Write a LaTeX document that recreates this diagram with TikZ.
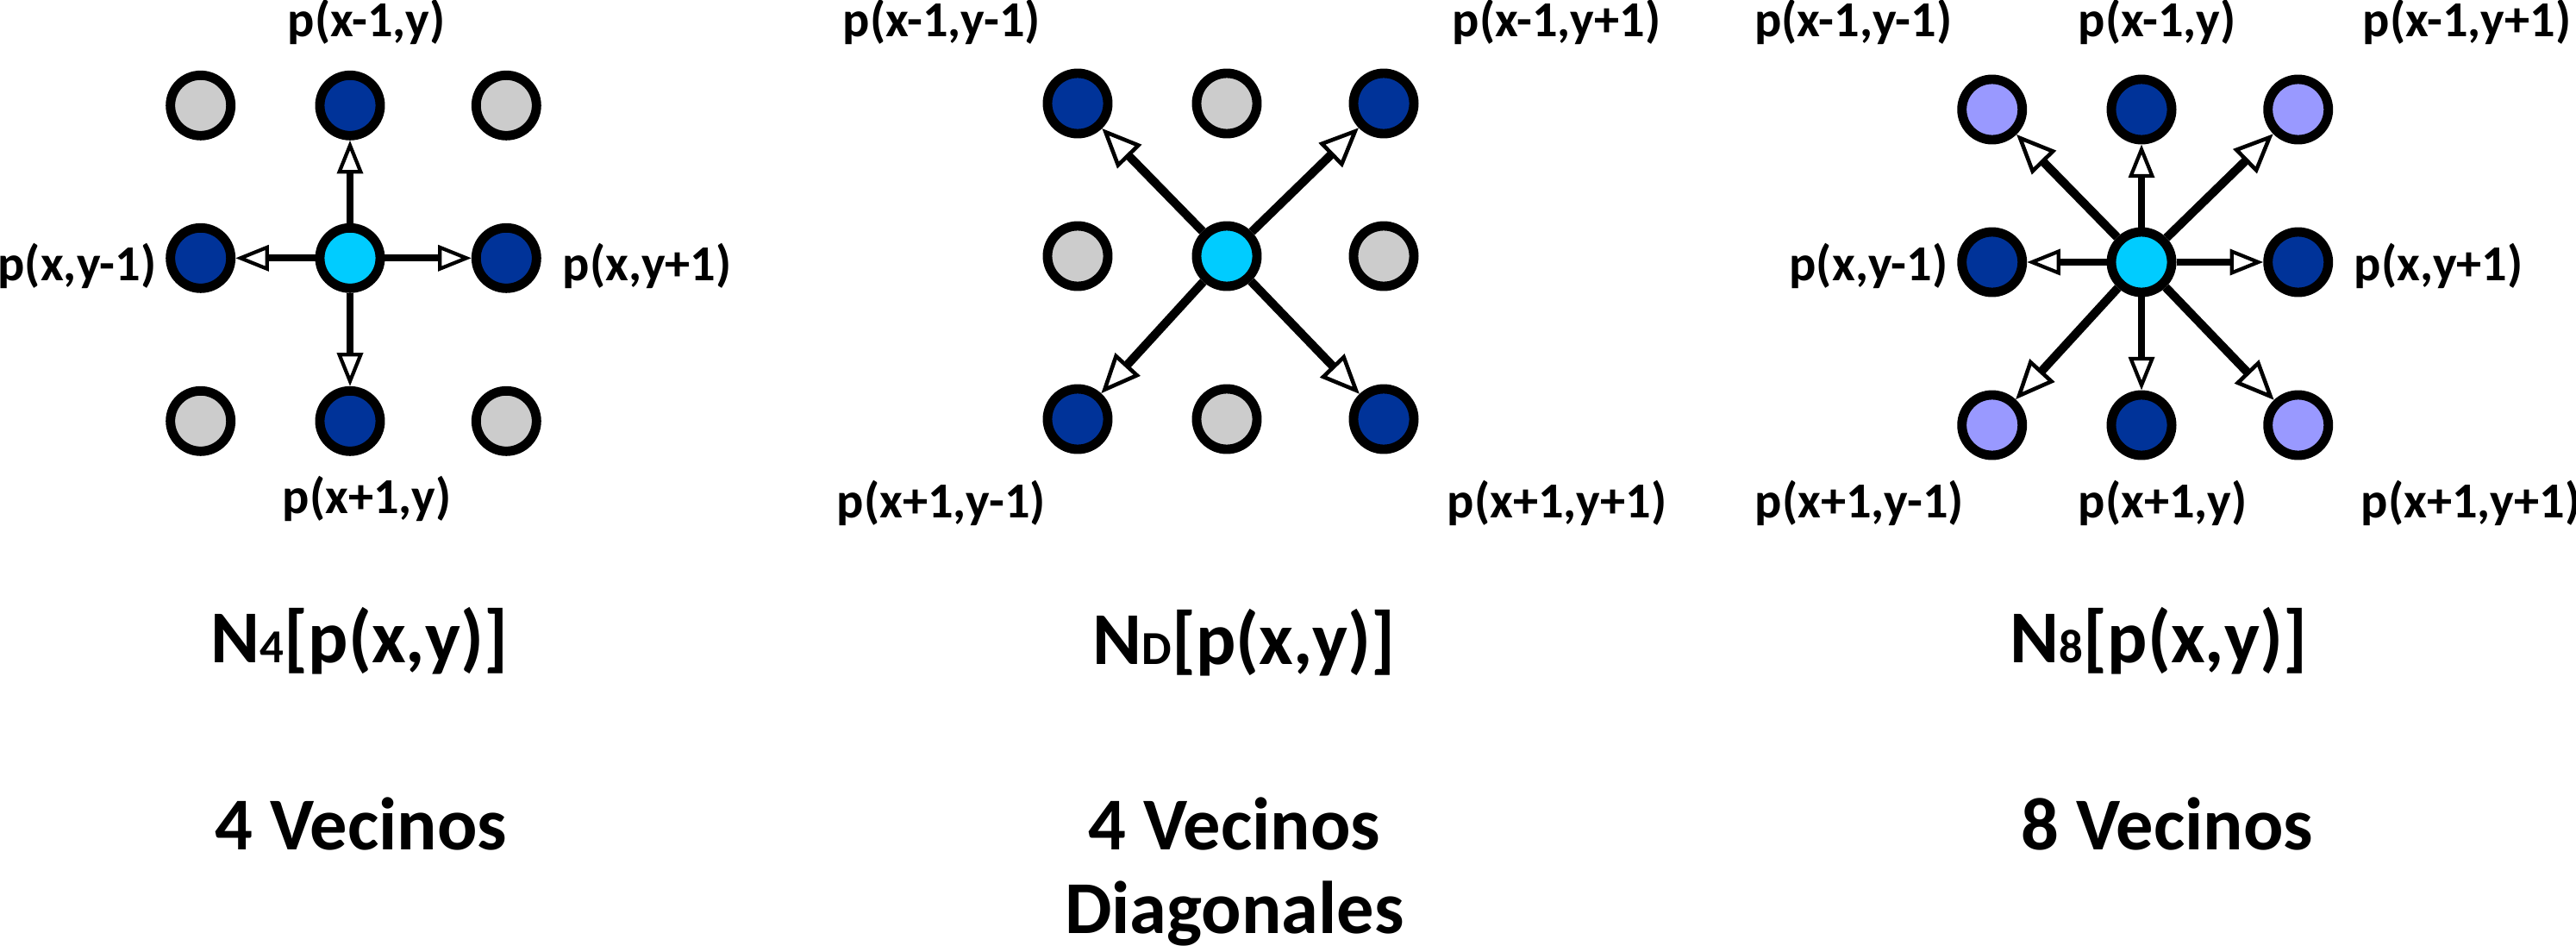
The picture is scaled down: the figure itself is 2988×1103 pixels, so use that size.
\documentclass[tikz,border=0pt]{standalone}
\usepackage{fontspec}
\setmainfont{Carlito}
\usetikzlibrary{arrows.meta}
\definecolor{dkblue}{HTML}{003399}
\definecolor{grayc}{HTML}{CCCCCC}
\definecolor{lav}{HTML}{9999FF}
\definecolor{cyanc}{HTML}{00CCFF}
\newcommand{\lblfont}{\bfseries\fontsize{16.6pt}{19pt}\selectfont}
\newcommand{\ttlfont}{\bfseries\fontsize{24.6pt}{29pt}\selectfont}
\newcommand{\subfnt}{\fontsize{15.6pt}{18pt}\selectfont}
\tikzset{
  pix/.style={circle, draw=black, line width=3.1pt, minimum size=0.70cm, inner sep=0pt},
  dk/.style={pix, fill=dkblue},
  gr/.style={pix, fill=grayc},
  lv/.style={pix, fill=lav},
  ctr/.style={pix, fill=cyanc},
  lbl/.style={font=\lblfont, inner sep=0pt},
  ttl/.style={font=\ttlfont, inner sep=0pt, anchor=base},
  arr/.style={line width=2.3pt, -{Triangle[open, length=11pt, width=8.5pt, line width=1.2pt]}},
  darr/.style={line width=2.85pt, -{Triangle[open, length=13pt, width=11pt, line width=1.3pt]}}
}
\begin{document}
\begin{tikzpicture}[x=0.01cm, y=-0.01cm]
\useasboundingbox (0,0) rectangle (2988,1103);
% ---------- Panel 1 ----------
\node[gr]  (a11) at (232.7,122.3) {};
\node[dk]  (a12) at (406,122.3) {};
\node[gr]  (a13) at (587.3,122.3) {};
\node[dk]  (a21) at (232.7,299.3) {};
\node[ctr] (a22) at (406,299.3) {};
\node[dk]  (a23) at (587.3,299.3) {};
\node[gr]  (a31) at (232.7,488.3) {};
\node[dk]  (a32) at (406,488.3) {};
\node[gr]  (a33) at (587.3,488.3) {};
\draw[arr] (a22) -- (a12);
\draw[arr] (a22) -- (a21);
\draw[arr] (a22) -- (a23);
\draw[arr] (a22) -- (a32);
\node[lbl, anchor=base west] (la1) at (333,42) {p(x-1,y)};
\node[lbl, anchor=base east] (la2) at (182,325) {p(x,y-1)};
\node[lbl, anchor=base west] (la3) at (652,325) {p(x,y+1)};
\node[lbl, anchor=base west] (la4) at (327,595) {p(x+1,y)};
\node[ttl] (ta1) at (417,768) {N{\subfnt 4}[p(x,y)]};
\node[ttl] (ta2) at (419,985) {4 Vecinos};
% ---------- Panel 2 ----------
\node[dk]  (b11) at (1250,120) {};
\node[gr]  (b12) at (1423,120) {};
\node[dk]  (b13) at (1605,120) {};
\node[gr]  (b21) at (1250,297) {};
\node[ctr] (b22) at (1423,297) {};
\node[gr]  (b23) at (1605,297) {};
\node[dk]  (b31) at (1250,486) {};
\node[gr]  (b32) at (1423,486) {};
\node[dk]  (b33) at (1605,486) {};
\draw[darr] (b22) -- (b11);
\draw[darr] (b22) -- (b13);
\draw[darr] (b22) -- (b31);
\draw[darr] (b22) -- (b33);
\node[lbl, anchor=base west] (lb1) at (977,42) {p(x-1,y-1)};
\node[lbl, anchor=base west] (lb2) at (1684,42) {p(x-1,y+1)};
\node[lbl, anchor=base west] (lb3) at (970,600) {p(x+1,y-1)};
\node[lbl, anchor=base west] (lb4) at (1678,600) {p(x+1,y+1)};
\node[ttl] (tb1) at (1443,770) {N{\subfnt D}[p(x,y)]};
\node[ttl] (tb2) at (1432,985) {4 Vecinos};
\node[ttl] (tb3) at (1432,1082) {Diagonales};
% ---------- Panel 3 ----------
\node[lv]  (c11) at (2310.7,127) {};
\node[dk]  (c12) at (2484,127) {};
\node[lv]  (c13) at (2665.7,127) {};
\node[dk]  (c21) at (2310.7,304) {};
\node[ctr] (c22) at (2484,304) {};
\node[dk]  (c23) at (2665.7,304) {};
\node[lv]  (c31) at (2310.7,493) {};
\node[dk]  (c32) at (2484,493) {};
\node[lv]  (c33) at (2665.7,493) {};
\draw[darr] (c22) -- (c11);
\draw[arr]  (c22) -- (c12);
\draw[darr] (c22) -- (c13);
\draw[arr]  (c22) -- (c21);
\draw[arr]  (c22) -- (c23);
\draw[darr] (c22) -- (c31);
\draw[arr]  (c22) -- (c32);
\draw[darr] (c22) -- (c33);
\node[lbl, anchor=base east] (lc1) at (2265,42) {p(x-1,y-1)};
\node[lbl, anchor=base west] (lc2) at (2410,42) {p(x-1,y)};
\node[lbl, anchor=base west] (lc3) at (2740,42) {p(x-1,y+1)};
\node[lbl, anchor=base east] (lc4) at (2260,325) {p(x,y-1)};
\node[lbl, anchor=base west] (lc5) at (2730,325) {p(x,y+1)};
\node[lbl, anchor=base west] (lc6) at (2035,600) {p(x+1,y-1)};
\node[lbl, anchor=base west] (lc7) at (2410,600) {p(x+1,y)};
\node[lbl, anchor=base west] (lc8) at (2738,600) {p(x+1,y+1)};
\node[ttl] (tc1) at (2504,768) {N{\subfnt 8}[p(x,y)]};
\node[ttl] (tc2) at (2514,985) {8 Vecinos};
\end{tikzpicture}
\end{document}
